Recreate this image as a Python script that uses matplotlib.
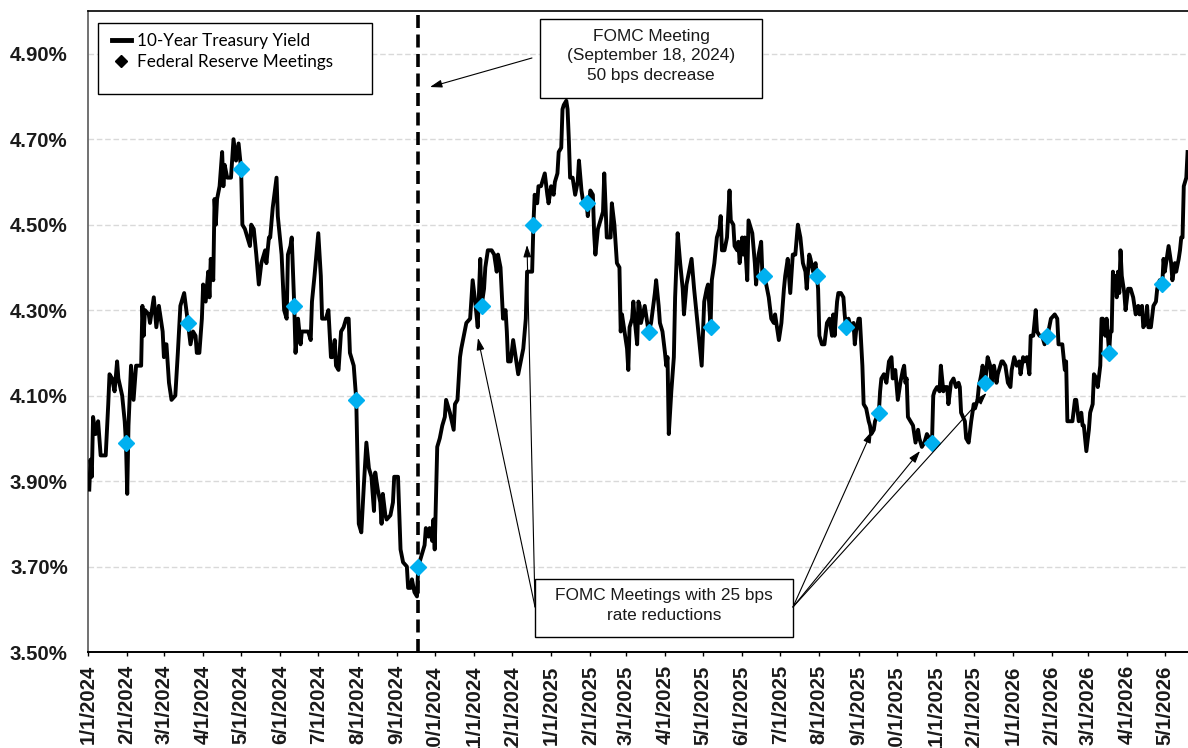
import matplotlib
matplotlib.use("Agg")
import matplotlib.pyplot as plt
import matplotlib.dates as mdates
from matplotlib.lines import Line2D
from matplotlib.patches import Rectangle
from matplotlib.ticker import FixedLocator, FuncFormatter
import pandas as pd

# 10-year treasury yield (%), grouped by year (MM-DD)
days_2024 = [
    "01-02", "01-03", "01-04", "01-05", "01-07", "01-09", "01-11", "01-15", "01-17", "01-18", "01-20", "01-22",
    "01-24", "01-25", "01-28", "01-30", "01-31",
    "02-01", "02-02", "02-04", "02-06", "02-08", "02-12", "02-13", "02-14", "02-15", "02-18", "02-19", "02-22",
    "02-24", "02-26", "02-29",
    "03-01", "03-02", "03-03", "03-05", "03-07", "03-10", "03-12", "03-14", "03-17", "03-20", "03-22", "03-24",
    "03-26", "03-27", "03-29", "03-31",
    "04-01", "04-03", "04-05", "04-06", "04-07", "04-09", "04-10", "04-11", "04-12", "04-14", "04-16", "04-17",
    "04-18", "04-20", "04-23", "04-25", "04-27", "04-28", "04-29",
    "05-01", "05-02", "05-04", "05-06", "05-08", "05-09", "05-11", "05-13", "05-15", "05-17", "05-19", "05-20",
    "05-21", "05-23", "05-24", "05-26", "05-29", "05-30",
    "06-02", "06-04", "06-06", "06-07", "06-09", "06-10", "06-12", "06-13", "06-15", "06-17", "06-18", "06-20",
    "06-23", "06-25", "06-26", "06-28",
    "07-01", "07-03", "07-04", "07-07", "07-09", "07-11", "07-12", "07-14", "07-15", "07-17", "07-19", "07-21",
    "07-23", "07-25", "07-26", "07-29", "07-31",
    "08-02", "08-04", "08-06", "08-08", "08-10", "08-12", "08-14", "08-15", "08-17", "08-19", "08-20", "08-21",
    "08-23", "08-24", "08-27", "08-29", "08-30",
    "09-02", "09-04", "09-06", "09-09", "09-10", "09-12", "09-13", "09-15", "09-17", "09-18", "09-21", "09-23",
    "09-24", "09-26", "09-27", "09-29", "09-30",
    "10-01", "10-03", "10-05", "10-07", "10-09", "10-10", "10-13", "10-16", "10-17", "10-19", "10-21", "10-22",
    "10-24", "10-26", "10-29", "10-31",
    "11-02", "11-04", "11-06", "11-07", "11-09", "11-10", "11-12", "11-15", "11-17", "11-19", "11-20", "11-22",
    "11-24", "11-26", "11-27", "11-28", "11-30",
    "12-02", "12-04", "12-06", "12-08", "12-10", "12-12", "12-13", "12-15", "12-17", "12-18", "12-19", "12-21",
    "12-22", "12-24", "12-27", "12-29", "12-30",
]
yields_2024 = [
    3.88, 3.95, 3.91, 4.05, 4.01, 4.04, 3.96, 3.96, 4.08, 4.15, 4.14, 4.11,
    4.18, 4.14, 4.10, 4.04, 3.99,
    3.87, 4.03, 4.17, 4.09, 4.17, 4.17, 4.31, 4.24, 4.30, 4.29, 4.27, 4.33,
    4.26, 4.31, 4.25,
    4.19, 4.22, 4.22, 4.13, 4.09, 4.10, 4.20, 4.31, 4.34, 4.27, 4.22, 4.25,
    4.24, 4.20, 4.20, 4.28,
    4.36, 4.32, 4.39, 4.33, 4.42, 4.37, 4.56, 4.50, 4.56, 4.59, 4.67, 4.59,
    4.64, 4.61, 4.61, 4.70, 4.65, 4.67, 4.69,
    4.63, 4.50, 4.49, 4.47, 4.45, 4.50, 4.49, 4.43, 4.36, 4.41, 4.43, 4.44,
    4.41, 4.47, 4.47, 4.54, 4.61, 4.52,
    4.43, 4.30, 4.28, 4.43, 4.45, 4.47, 4.31, 4.20, 4.28, 4.22, 4.25, 4.25,
    4.25, 4.23, 4.32, 4.38,
    4.48, 4.38, 4.28, 4.28, 4.30, 4.19, 4.19, 4.23, 4.17, 4.16, 4.25, 4.26,
    4.28, 4.28, 4.20, 4.17, 4.09,
    3.80, 3.78, 3.89, 3.99, 3.93, 3.91, 3.83, 3.92, 3.88, 3.85, 3.80, 3.87,
    3.82, 3.81, 3.82, 3.85, 3.91,
    3.91, 3.74, 3.71, 3.70, 3.65, 3.65, 3.67, 3.64, 3.63, 3.70, 3.73, 3.75,
    3.79, 3.77, 3.79, 3.76, 3.81,
    3.74, 3.98, 4.00, 4.03, 4.05, 4.09, 4.06, 4.02, 4.08, 4.09, 4.19, 4.21,
    4.24, 4.27, 4.28, 4.37,
    4.32, 4.26, 4.42, 4.31, 4.35, 4.40, 4.44, 4.44, 4.43, 4.39, 4.43, 4.40,
    4.28, 4.30, 4.25, 4.18, 4.18,
    4.23, 4.19, 4.15, 4.18, 4.21, 4.28, 4.39, 4.39, 4.39, 4.50, 4.57, 4.55,
    4.59, 4.59, 4.62, 4.57, 4.55,
]

days_2025 = [
    "01-01", "01-03", "01-04", "01-06", "01-07", "01-09", "01-10", "01-11", "01-13", "01-14", "01-15", "01-16",
    "01-18", "01-20", "01-22", "01-23", "01-25", "01-26", "01-29", "01-30",
    "02-01", "02-03", "02-04", "02-05", "02-07", "02-09", "02-11", "02-12", "02-14", "02-17", "02-18", "02-20",
    "02-22", "02-24", "02-25", "02-26", "02-28",
    "03-02", "03-03", "03-04", "03-06", "03-07", "03-08", "03-10", "03-11", "03-12", "03-13", "03-16", "03-18",
    "03-19", "03-21", "03-24", "03-25", "03-27", "03-28", "03-30",
    "04-01", "04-02", "04-03", "04-04", "04-06", "04-08", "04-09", "04-11", "04-13", "04-15", "04-16", "04-18",
    "04-20", "04-22", "04-24", "04-26", "04-28", "04-30",
    "05-02", "05-04", "05-05", "05-07", "05-08", "05-10", "05-12", "05-14", "05-15", "05-16", "05-18", "05-20",
    "05-22", "05-23", "05-25", "05-26", "05-28", "05-29", "05-30",
    "06-01", "06-02", "06-03", "06-05", "06-06", "06-07", "06-09", "06-11", "06-12", "06-14", "06-16", "06-17",
    "06-18", "06-20", "06-22", "06-24", "06-26", "06-27", "06-30",
    "07-02", "07-04", "07-05", "07-07", "07-09", "07-11", "07-13", "07-15", "07-17", "07-18", "07-19", "07-21",
    "07-22", "07-24", "07-25", "07-27", "07-29", "07-30", "07-31",
    "08-01", "08-03", "08-05", "08-07", "08-09", "08-11", "08-12", "08-13", "08-15", "08-16", "08-18", "08-20",
    "08-21", "08-22", "08-24", "08-26", "08-28", "08-29", "08-30",
    "09-01", "09-02", "09-04", "09-05", "09-07", "09-09", "09-10", "09-11", "09-13", "09-14", "09-17", "09-18",
    "09-19", "09-21", "09-23", "09-25", "09-27", "09-28", "09-30",
    "10-02", "10-04", "10-06", "10-07", "10-08", "10-09", "10-10", "10-12", "10-14", "10-16", "10-18", "10-19",
    "10-21", "10-23", "10-25", "10-27", "10-29", "10-30", "10-31",
    "11-02", "11-04", "11-05", "11-07", "11-08", "11-10", "11-11", "11-13", "11-15", "11-17", "11-19", "11-20",
    "11-21", "11-24", "11-25", "11-27", "11-29",
    "12-01", "12-02", "12-04", "12-05", "12-07", "12-08", "12-10", "12-12", "12-14", "12-15", "12-17", "12-19",
    "12-20", "12-23", "12-24", "12-26", "12-28", "12-30", "12-31",
]
yields_2025 = [
    4.59, 4.57, 4.60, 4.62, 4.67, 4.68, 4.77, 4.78, 4.79, 4.77, 4.70, 4.61,
    4.61, 4.57, 4.60, 4.65, 4.58, 4.56, 4.55, 4.52,
    4.58, 4.57, 4.48, 4.43, 4.49, 4.51, 4.53, 4.62, 4.47, 4.47, 4.55, 4.50,
    4.41, 4.40, 4.25, 4.29, 4.25,
    4.21, 4.16, 4.26, 4.28, 4.32, 4.28, 4.22, 4.32, 4.31, 4.27, 4.31, 4.27,
    4.25, 4.27, 4.34, 4.37, 4.31, 4.27, 4.25,
    4.20, 4.17, 4.19, 4.01, 4.11, 4.19, 4.33, 4.48, 4.41, 4.35, 4.29, 4.36,
    4.39, 4.42, 4.35, 4.29, 4.23, 4.17,
    4.32, 4.35, 4.36, 4.26, 4.37, 4.41, 4.47, 4.49, 4.52, 4.44, 4.44, 4.47,
    4.58, 4.51, 4.50, 4.45, 4.44, 4.46, 4.41,
    4.47, 4.43, 4.47, 4.37, 4.51, 4.50, 4.48, 4.41, 4.36, 4.43, 4.46, 4.38,
    4.38, 4.36, 4.33, 4.28, 4.27, 4.29, 4.23,
    4.27, 4.35, 4.38, 4.42, 4.34, 4.43, 4.43, 4.50, 4.47, 4.44, 4.41, 4.39,
    4.35, 4.43, 4.42, 4.39, 4.41, 4.38, 4.35,
    4.24, 4.22, 4.22, 4.27, 4.28, 4.24, 4.29, 4.24, 4.32, 4.34, 4.34, 4.33,
    4.29, 4.26, 4.28, 4.26, 4.27, 4.22, 4.25,
    4.28, 4.28, 4.17, 4.08, 4.07, 4.04, 4.03, 4.01, 4.02, 4.04, 4.06, 4.11,
    4.14, 4.15, 4.13, 4.18, 4.19, 4.14, 4.16,
    4.09, 4.13, 4.16, 4.17, 4.13, 4.14, 4.05, 4.04, 4.03, 3.99, 4.02, 4.00,
    3.98, 3.99, 4.01, 4.00, 3.99, 4.10, 4.11,
    4.12, 4.11, 4.17, 4.11, 4.12, 4.12, 4.08, 4.13, 4.14, 4.12, 4.13, 4.12,
    4.06, 4.04, 4.00, 3.99, 4.04,
    4.08, 4.07, 4.09, 4.12, 4.15, 4.17, 4.13, 4.19, 4.17, 4.13, 4.17, 4.13,
    4.15, 4.18, 4.18, 4.17, 4.13, 4.12, 4.16,
]

days_2026 = [
    "01-02", "01-04", "01-06", "01-07", "01-09", "01-10", "01-12", "01-14", "01-15", "01-17", "01-19", "01-20",
    "01-22", "01-24", "01-26", "01-28", "01-29", "01-31",
    "02-03", "02-05", "02-06", "02-08", "02-09", "02-11", "02-12", "02-13", "02-15", "02-17", "02-19", "02-20",
    "02-22", "02-24", "02-25", "02-26", "02-28",
    "03-02", "03-03", "03-05", "03-06", "03-08", "03-09", "03-11", "03-12", "03-13", "03-15", "03-16", "03-18",
    "03-19", "03-20", "03-21", "03-22", "03-23", "03-24", "03-25", "03-26", "03-27", "03-28", "03-30", "03-31",
    "04-02", "04-04", "04-06", "04-08", "04-10", "04-11", "04-13", "04-14", "04-16", "04-17", "04-18", "04-20",
    "04-22", "04-24", "04-25", "04-27", "04-29", "04-30",
    "05-01", "05-03", "05-04", "05-06", "05-07", "05-09", "05-10", "05-12", "05-13", "05-14", "05-15", "05-16",
    "05-17", "05-18", "05-19",
]
yields_2026 = [
    4.19, 4.17, 4.18, 4.15, 4.19, 4.18, 4.19, 4.15, 4.24, 4.24, 4.30, 4.25,
    4.24, 4.24, 4.22, 4.24, 4.25, 4.28,
    4.29, 4.28, 4.22, 4.22, 4.22, 4.16, 4.18, 4.04, 4.04, 4.04, 4.09, 4.09,
    4.04, 4.06, 4.03, 4.03, 3.97,
    4.02, 4.06, 4.08, 4.15, 4.14, 4.12, 4.17, 4.28, 4.28, 4.24, 4.28, 4.20,
    4.25, 4.25, 4.39, 4.35, 4.38, 4.33, 4.39, 4.34, 4.44, 4.38, 4.34, 4.30,
    4.35, 4.35, 4.33, 4.29, 4.31, 4.29, 4.31, 4.26, 4.27, 4.31, 4.26, 4.26,
    4.31, 4.32, 4.35, 4.37, 4.36, 4.42,
    4.39, 4.43, 4.45, 4.41, 4.37, 4.41, 4.39, 4.42, 4.44, 4.47, 4.47, 4.59,
    4.60, 4.61, 4.67,
]

# Federal Reserve meetings (blue diamonds)
meeting_dates = [
    "2024-01-31", "2024-03-20", "2024-05-01", "2024-06-12", "2024-07-31", "2024-09-18", "2024-11-07",
    "2024-12-18", "2025-01-29", "2025-03-19", "2025-05-07", "2025-06-18", "2025-07-30", "2025-08-22",
    "2025-09-17", "2025-10-29", "2025-12-10", "2026-01-28", "2026-03-18", "2026-04-29",
]
meeting_yields = [
    3.99, 4.27, 4.63, 4.31, 4.09, 3.70, 4.31, 4.50, 4.55, 4.25,
    4.26, 4.38, 4.38, 4.26, 4.06, 3.99, 4.13, 4.24, 4.20, 4.36,
]

big_cut_date = "2024-09-18"
y_ticks = [3.5, 3.7, 3.9, 4.1, 4.3, 4.5, 4.7, 4.9]

dates = pd.to_datetime(["2024-" + d for d in days_2024] +
                       ["2025-" + d for d in days_2025] +
                       ["2026-" + d for d in days_2026])
yields = yields_2024 + yields_2025 + yields_2026

plt.rcParams["font.family"] = ["Liberation Sans", "DejaVu Sans"]

fig = plt.figure(figsize=(11.88, 7.48), dpi=100)
ax = fig.add_axes([88 / 1188, 96 / 748, 1100 / 1188, 641 / 748])

ax.plot(dates, yields, color="black", lw=2.8, zorder=3)
ax.axvline(pd.Timestamp(big_cut_date), color="black", lw=2.6, dashes=(3.6, 1.8), zorder=3)
ax.plot(pd.to_datetime(meeting_dates), meeting_yields, ls="none", marker="D", ms=8.5,
        color="#00B0F0", mec="#00B0F0", zorder=4)

ax.set_xlim(pd.Timestamp("2024-01-01"), pd.Timestamp("2026-05-19 08:00"))
ax.set_ylim(3.5, 5.0)

ax.yaxis.set_major_locator(FixedLocator(y_ticks))
ax.yaxis.set_major_formatter(FuncFormatter(lambda v, p: f"{v:.2f}%"))
ax.xaxis.set_major_locator(mdates.MonthLocator())


def month_label(x, pos):
    d = mdates.num2date(x)
    return f"{d.month}/{d.day}/{d.year}"


ax.xaxis.set_major_formatter(FuncFormatter(month_label))

ax.tick_params(axis="y", length=0, pad=14.5, labelsize=14.7, labelcolor="#1a1a1a")
ax.tick_params(axis="x", direction="out", length=3, width=1, pad=6.5, labelsize=14.7,
               labelrotation=90, labelcolor="#1a1a1a")
for lab in ax.get_xticklabels() + ax.get_yticklabels():
    lab.set_fontweight("bold")

ax.grid(axis="y", color="#D9D9D9", lw=1, ls=(0, (4, 2)))
ax.set_axisbelow(True)

ax.spines["right"].set_visible(False)
ax.spines["top"].set_color("black")
ax.spines["top"].set_linewidth(1.2)
ax.spines["left"].set_color("#595959")
ax.spines["left"].set_linewidth(1.2)
ax.spines["bottom"].set_color("black")
ax.spines["bottom"].set_linewidth(1.4)

# legend in a white box
ax.add_patch(Rectangle((0.0091, 0.8705), 0.2491, 0.1108, transform=ax.transAxes,
                       facecolor="white", edgecolor="black", lw=1.0, zorder=5))
handles = [Line2D([], [], color="black", lw=3.5),
           Line2D([], [], ls="none", marker="D", color="black", ms=6.5)]
leg = ax.legend(handles, ["10-Year Treasury Yield", "Federal Reserve Meetings"],
                loc="upper left", bbox_to_anchor=(0.0218, 0.966), frameon=False,
                borderpad=0, borderaxespad=0, handlelength=1.1, handletextpad=0.35,
                labelspacing=0.3, prop={"family": ["Lato", "DejaVu Sans"], "size": 12.3})
leg.set_zorder(6)

arrow_kw = dict(arrowstyle="-|>,head_length=0.4,head_width=0.13", color="black", lw=0.8,
                shrinkA=0, shrinkB=0, mutation_scale=18)

# 50 bps box
ax.add_patch(Rectangle((0.4109, 0.8643), 0.2018, 0.1232, transform=ax.transAxes,
                       facecolor="white", edgecolor="black", lw=1.0, zorder=5))
ax.text(0.5118, 0.9298, "FOMC Meeting\n(September 18, 2024)\n50 bps decrease",
        transform=ax.transAxes, ha="center", va="center", fontsize=12.4,
        linespacing=1.4, color="#1a1a1a", zorder=6)
ax.annotate("", xy=(0.3109, 0.8814), xycoords="axes fraction",
            xytext=(0.4036, 0.9267), textcoords="axes fraction", arrowprops=arrow_kw, zorder=6)

# 25 bps box
ax.add_patch(Rectangle((0.4064, 0.0234), 0.2345, 0.0905, transform=ax.transAxes,
                       facecolor="white", edgecolor="black", lw=1.0, zorder=5))
ax.text(0.5236, 0.0725, "FOMC Meetings with 25 bps\nrate reductions",
        transform=ax.transAxes, ha="center", va="center", fontsize=12.4,
        linespacing=1.35, color="#1a1a1a", zorder=6)
left_tips = [(0.3545, 0.4899), (0.3991, 0.6349)]
right_tips = [(0.7127, 0.3448), (0.7564, 0.3136), (0.8168, 0.4041)]
for tip in left_tips:
    ax.annotate("", xy=tip, xycoords="axes fraction", xytext=(0.4064, 0.0702),
                textcoords="axes fraction", arrowprops=arrow_kw, zorder=6)
for tip in right_tips:
    ax.annotate("", xy=tip, xycoords="axes fraction", xytext=(0.6409, 0.0702),
                textcoords="axes fraction", arrowprops=arrow_kw, zorder=6)

fig.savefig("out.png", dpi=100)
